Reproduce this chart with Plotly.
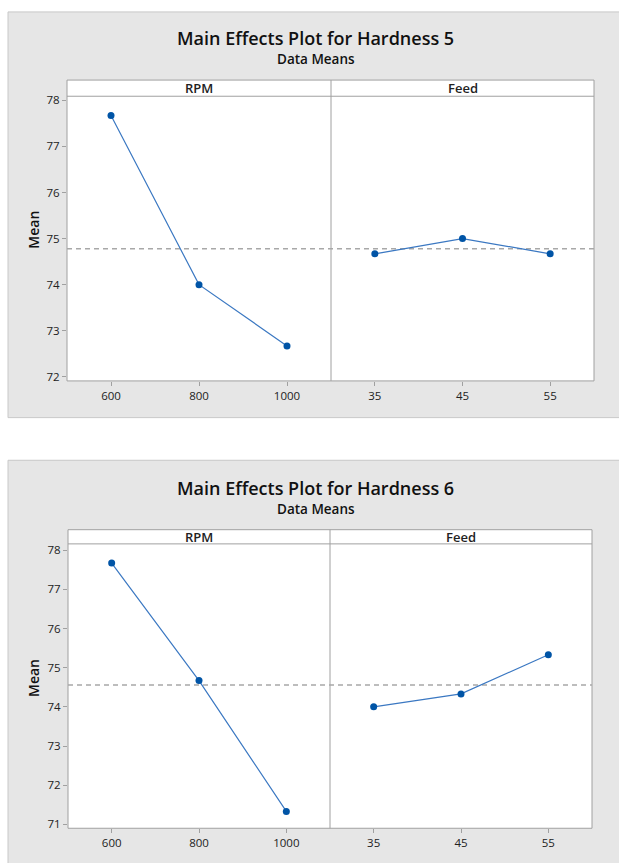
import numpy as np
import plotly.graph_objects as go

# ---- data ----
rpm_levels = [600, 800, 1000]
feed_levels = [35, 45, 55]
h5_rpm_means = [77.67, 74.00, 72.67]
h5_feed_means = [74.67, 75.00, 74.67]
h6_rpm_means = [77.67, 74.67, 71.33]
h6_feed_means = [74.00, 74.33, 75.33]
titles = ["Main Effects Plot for Hardness 5", "Main Effects Plot for Hardness 6"]
subtitle = "Data Means"
factor_names = ["RPM", "Feed"]
h5_yticks = [72, 73, 74, 75, 76, 77, 78]
h6_yticks = [71, 72, 73, 74, 75, 76, 77, 78]

W, H = 619, 863
def X(px): return px / W
def Y(py): return 1 - py / H

FONT = "Open Sans"
BLUE = "#0054a6"
LINEBLUE = "#3b78c2"
FRAME = "#a0a0a0"
PANEL = "#e6e6e6"

fig = go.Figure()

charts = [
    dict(rpm=h5_rpm_means, feed=h5_feed_means, yticks=h5_yticks, yr=[71.91, 78.09],
         panel=(8, 8, 640, 417), left=67, mid=331, right=594, top=76.7, strip=93, bottom=380,
         ty=34.5, sy=55.7, my=228, xa="x", xb="x2", ya="y", title=titles[0]),
    dict(rpm=h6_rpm_means, feed=h6_feed_means, yticks=h6_yticks, yr=[70.9, 78.16],
         panel=(8, 460, 640, 880), left=68, mid=330, right=592, top=530, strip=544.3, bottom=831,
         ty=487.7, sy=509, my=680, xa="x3", xb="x4", ya="y2", title=titles[1]),
]

shapes = []
annotations = []
layout_axes = {}
for i, c in enumerate(charts):
    px0, py0, px1, py1 = c["panel"]
    shapes.append(dict(type="rect", xref="paper", yref="paper", x0=X(px0), x1=X(px1), y0=Y(py1), y1=Y(py0),
                       fillcolor=PANEL, line=dict(color="#c8c8c8", width=1), layer="below"))
    shapes.append(dict(type="rect", xref="paper", yref="paper", x0=X(c["left"]), x1=X(c["right"]),
                       y0=Y(c["bottom"]), y1=Y(c["top"]), fillcolor="white",
                       line=dict(color=FRAME, width=1), layer="below"))
    shapes.append(dict(type="line", xref="paper", yref="paper", x0=X(c["left"]), x1=X(c["right"]),
                       y0=Y(c["strip"]), y1=Y(c["strip"]), line=dict(color=FRAME, width=1), layer="below"))
    shapes.append(dict(type="line", xref="paper", yref="paper", x0=X(c["mid"]), x1=X(c["mid"]),
                       y0=Y(c["bottom"]), y1=Y(c["top"]), line=dict(color=FRAME, width=1), layer="below"))
    grand = float(np.mean(c["rpm"]))
    shapes.append(dict(type="line", xref="paper", yref=c["ya"], x0=X(c["left"]), x1=X(c["right"]),
                       y0=grand, y1=grand, line=dict(color="#a8a8a8", width=1.5, dash="5px,4px"), layer="below"))

    cx = 315.5
    annotations.append(dict(text=c["title"], xref="paper", yref="paper", x=X(cx), y=Y(c["ty"]),
                            showarrow=False, xanchor="center", yanchor="middle",
                            font=dict(family=FONT, size=18, color="#111", weight=600)))
    annotations.append(dict(text=subtitle, xref="paper", yref="paper", x=X(cx), y=Y(c["sy"]),
                            showarrow=False, xanchor="center", yanchor="middle",
                            font=dict(family=FONT, size=13.5, color="#111", weight=600)))
    annotations.append(dict(text=factor_names[0], xref="paper", yref="paper",
                            x=X((c["left"] + c["mid"]) / 2), y=Y((c["top"] + c["strip"]) / 2),
                            showarrow=False, xanchor="center", yanchor="middle",
                            font=dict(family=FONT, size=13, color="#222", weight=600)))
    annotations.append(dict(text=factor_names[1], xref="paper", yref="paper",
                            x=X((c["mid"] + c["right"]) / 2), y=Y((c["top"] + c["strip"]) / 2),
                            showarrow=False, xanchor="center", yanchor="middle",
                            font=dict(family=FONT, size=13, color="#222", weight=600)))
    annotations.append(dict(text="Mean", xref="paper", yref="paper", x=X(33.5), y=Y(c["my"]),
                            showarrow=False, xanchor="center", yanchor="middle", textangle=-90,
                            font=dict(family=FONT, size=14, color="#111", weight=600)))

    xa_name = "xaxis" if c["xa"] == "x" else "xaxis" + c["xa"][1:]
    xb_name = "xaxis" + c["xb"][1:]
    ya_name = "yaxis" if c["ya"] == "y" else "yaxis" + c["ya"][1:]
    common_x = dict(showgrid=False, zeroline=False, showline=False, ticks="outside", ticklen=4,
                    tickcolor=FRAME, tickfont=dict(family=FONT, size=11.5, color="#222"), anchor=c["ya"])
    layout_axes[xa_name] = dict(common_x, domain=[X(c["left"]), X(c["mid"])], range=[500, 1100],
                                tickvals=rpm_levels, ticktext=[str(v) for v in rpm_levels])
    layout_axes[xb_name] = dict(common_x, domain=[X(c["mid"]), X(c["right"])], range=[30, 60],
                                tickvals=feed_levels, ticktext=[str(v) for v in feed_levels])
    layout_axes[ya_name] = dict(showgrid=False, zeroline=False, showline=False, ticks="outside", ticklen=4,
                                tickcolor=FRAME, tickfont=dict(family=FONT, size=11.5, color="#222"),
                                domain=[Y(c["bottom"]), Y(c["strip"])], range=c["yr"],
                                tickvals=c["yticks"], anchor=c["xa"])

    for xs, ys, xr in [(rpm_levels, c["rpm"], c["xa"]), (feed_levels, c["feed"], c["xb"])]:
        fig.add_trace(go.Scatter(x=xs, y=ys, xaxis=xr, yaxis=c["ya"], mode="lines+markers",
                                 line=dict(color=LINEBLUE, width=1.2),
                                 marker=dict(color=BLUE, size=7), showlegend=False, hoverinfo="x+y"))

fig.update_layout(width=W, height=H, margin=dict(l=0, r=0, t=0, b=0),
                  paper_bgcolor="white", plot_bgcolor="rgba(0,0,0,0)",
                  shapes=shapes, annotations=annotations, showlegend=False,
                  font=dict(family=FONT), **layout_axes)

fig.write_html(
    "out.html",
    config={"displayModeBar": False},
    post_script="document.documentElement.style.margin='0';document.body.style.margin='0';"
                "document.body.style.overflow='hidden';",
)
